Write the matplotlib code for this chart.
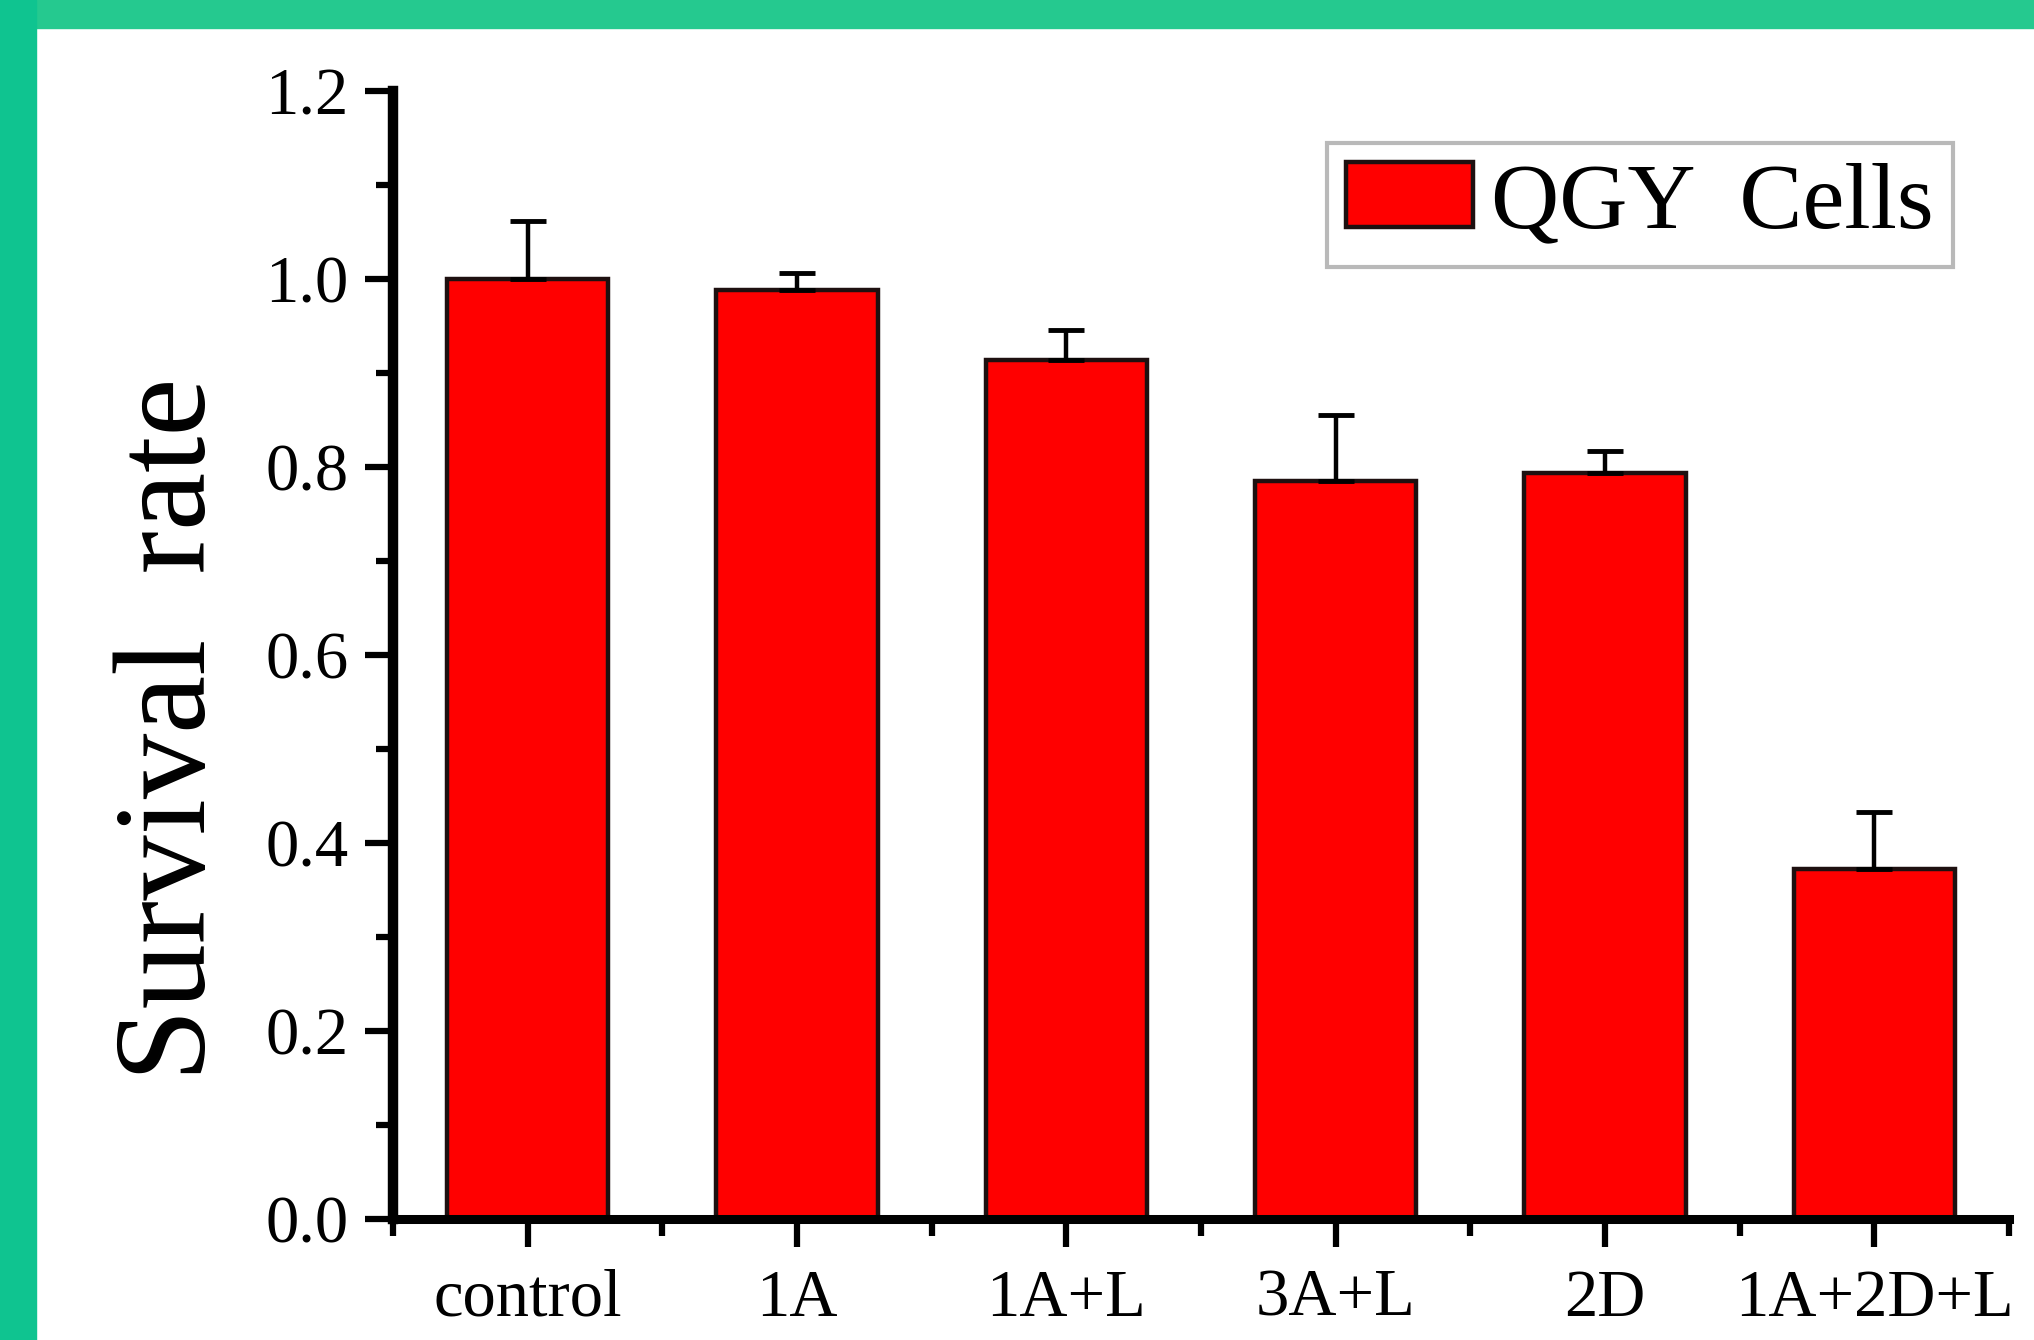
import matplotlib.pyplot as plt
import numpy as np
from matplotlib.patches import Rectangle

# --- data ---
groups = ["control", "1A", "1A+L", "3A+L", "2D", "1A+2D+L"]
survival = [1.0, 0.988, 0.914, 0.785, 0.794, 0.372]
err_up = [0.062, 0.018, 0.032, 0.070, 0.023, 0.061]
y_ticks = [0.0, 0.2, 0.4, 0.6, 0.8, 1.0, 1.2]

plt.rcParams["font.family"] = ["Liberation Serif", "DejaVu Serif"]

fig = plt.figure(figsize=(20.34, 13.40), dpi=100)
fig.patch.set_facecolor("white")

# green frame on top and left edges
fig.patches.append(Rectangle((0, 1 - 28 / 1340), 1, 28 / 1340, transform=fig.transFigure,
                             color="#25c98f", zorder=0))
fig.patches.append(Rectangle((0, 0), 36 / 2034, 1, transform=fig.transFigure,
                             color="#0fc490", zorder=0))

ax = fig.add_axes([393 / 2034, 1 - 1219 / 1340, (2009 - 393) / 2034, (1219 - 91) / 1340])
ax.set_facecolor("none")

x = np.arange(len(groups))
ax.bar(x, survival, width=0.6, color="#ff0000", edgecolor="#1e1010", linewidth=3.2,
       label="QGY  Cells", zorder=2)
ax.errorbar(x, survival, yerr=[np.zeros(len(x)), err_up], fmt="none", ecolor="black",
            elinewidth=3.2, capsize=13, capthick=3.5, zorder=3)

ax.set_xlim(-0.5, 5.5)
ax.set_ylim(0, 1.2)
ax.set_xticks(x)
ax.set_xticklabels(groups)
ax.set_xticks(np.arange(-0.5, 6, 1), minor=True)
ax.set_yticks(y_ticks)
ax.set_yticklabels([f"{v:.1f}" for v in y_ticks])
ax.set_yticks(np.arange(0.1, 1.2, 0.2), minor=True)

for side in ["top", "right"]:
    ax.spines[side].set_visible(False)
ax.spines["left"].set_linewidth(7.5)
ax.spines["bottom"].set_linewidth(6.5)

ax.tick_params(axis="both", which="major", labelsize=48, width=4.5, length=20, pad=12,
               direction="out", color="black")
ax.tick_params(axis="both", which="minor", width=4.5, length=12, direction="out")
ax.tick_params(axis="x", which="major", pad=16)

ax.set_ylabel("Survival  rate", fontsize=94)
ax.yaxis.set_label_coords(-0.099, 0.434)

ax.legend(loc="upper right", bbox_to_anchor=(1953 / 2034, 1 - 143 / 1340),
          bbox_transform=fig.transFigure, fontsize=68, frameon=True, fancybox=False,
          edgecolor="#a8a8a8", handlelength=1.34, handleheight=0.69, handletextpad=0.2,
          borderpad=0.2, borderaxespad=0).get_frame().set_linewidth(3)

plt.savefig("out.png", dpi=100)
